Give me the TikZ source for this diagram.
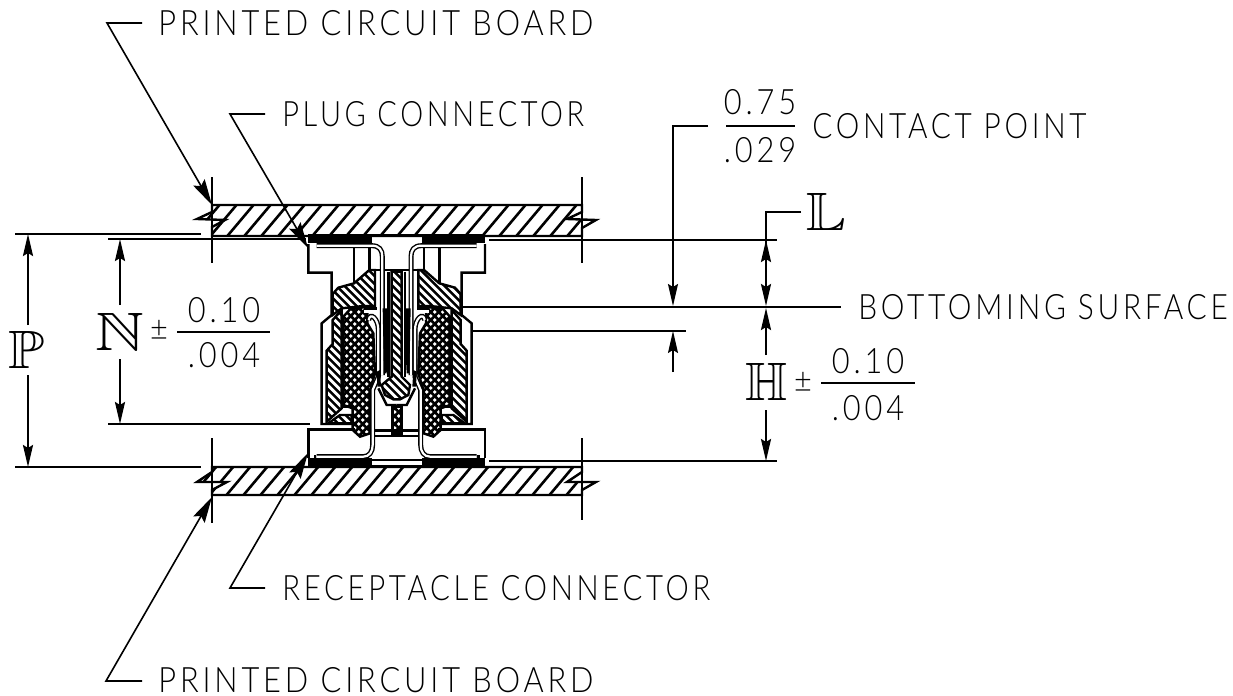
\documentclass[tikz,border=0pt]{standalone}
\usepackage{amssymb}
\usepackage{fontspec}
\newfontfamily\lblfont[LetterSpace=11,FakeStretch=0.88,UprightFont=* Light]{Lato}
\usetikzlibrary{arrows.meta}

\tikzset{
  lbl/.style={inner sep=0pt,font=\lblfont\fontsize{17.5}{18}\selectfont},
  bigl/.style={inner sep=0pt,font=\fontsize{27}{27}\selectfont},
  thinl/.style={line width=0.7pt},
  thickl/.style={line width=1.2pt},
  dimarrow/.style={line width=1.1pt,-{Stealth[length=11pt,width=5pt,inset=1.5pt]}},
  leadarrow/.style={line width=0.8pt,-{Stealth[length=13pt,width=6.5pt,inset=2pt]}},
  hatchl/.style={line width=1.3pt},
  hatchs/.style={line width=1.2pt},
  crossl/.style={line width=1.35pt},
  contact/.style={double,double distance=1.1pt,line width=0.7pt},
}

% one half of the connector section, #1 sets the hatch direction
\newcommand{\hatchfill}[2]{%
  \begin{scope}
    \clip #2;
    \foreach \d in {-700,-676,...,1100} \draw[hatchs] (\d,0) -- ++(#1*800,800);
  \end{scope}
  \draw[thickl] #2;
}
\newcommand{\crossfill}[1]{%
  \begin{scope}
    \clip #1;
    \foreach \d in {-700,-676,...,1100} {
      \draw[crossl] (\d,0) -- ++(800,800);
      \draw[crossl] (\d,0) -- ++(-800,800);
    }
  \end{scope}
  \draw[thickl] #1;
}
\newcommand{\connhalf}[1]{%
  % solder pads
  \fill (85,42) rectangle (350,48);
  \fill (85,42) rectangle (275,70);
  \fill (85,715) rectangle (275,740);
  \fill (275,735) rectangle (350,740);
  \draw[thickl] (275,720) -- (350,720);
  % housing outline
  \draw[thickl] (85,72) -- (85,158) -- (155,158) -- (155,285) -- (125,310) -- (125,612) -- (218,612);
  \draw[thickl] (268,150) -- (350,150);
  \draw[thickl] (222,85) -- (222,190);
  \draw[thickl] (268,85) -- (268,150);
  \draw[thickl] (85,715) -- (85,628) -- (225,628);
  \draw[thickl] (285,632) -- (350,632);
  \draw[thickl] (285,648) -- (350,648);
  \draw[thickl] (105,715) -- (105,705);
  % hatched parts
  \hatchfill{#1}{(268,150) -- (222,190) -- (175,203) -- (158,222) -- (158,285) -- (185,265) -- (250,258) -- (285,258) -- (285,150) -- cycle}
  \hatchfill{#1}{(158,300) -- (185,270) -- (185,565) -- (140,605) -- (140,392) -- (158,372) -- cycle}
  \hatchfill{#1}{(145,610) -- (180,585) -- (215,585) -- (215,610) -- cycle}
  \crossfill{(190,290) -- (210,268) -- (250,262) -- (262,265) -- (262,310) -- (280,340) -- (285,460) -- (270,510) -- (270,640) -- (240,650) -- (218,630) -- (218,565) -- (190,555) -- cycle}
  \draw[thickl] (185,560) -- (218,560);
  % contacts
  \draw[contact] (110,77) -- (275,77) .. controls (298,77) and (307,90) .. (307,110) -- (307,465);
  \draw[contact] (110,710) -- (250,710) .. controls (268,710) and (278,695) .. (278,675) -- (278,510) -- (295,470) -- (295,330) .. controls (295,295) and (270,275) .. (266,300);
  \fill[white] (252,266) rectangle (290,278);
  \draw[thickl] (252,266) -- (290,266);
  % black wedges
  \fill (308,265) -- (328,265) -- (328,300) -- (320,460) -- (312,460) -- cycle;
  \fill (290,455) -- (300,450) -- (303,500) -- (292,500) -- cycle;
  \draw[thickl] (325,155) -- (325,470);
  \draw[thickl] (295,505) -- (320,555) -- (350,555);
}

\begin{document}
\begin{tikzpicture}[x=0.5pt,y=0.5pt,yscale=-1,xscale=1]
  \useasboundingbox (0,0) rectangle (1233,696);

  % upper board
  \begin{scope}
    \clip (212,205) -- (582,205) -- (582,212) -- (567,219) -- (596,220) -- (582,228) -- (582,236) -- (212,236) -- (212,227) -- (225,220) -- (197,219) -- (212,212) -- cycle;
    \foreach \x in {190,207,...,600} \draw[hatchl] (\x,240) -- ++(32,-38);
  \end{scope}
  \draw[thickl] (212,205) -- (582,205) -- (582,212) -- (567,219) -- (596,220) -- (582,228) -- (582,236) -- (212,236) -- (212,227) -- (225,220) -- (197,219) -- (212,212) -- cycle;

  % lower board
  \begin{scope}
    \clip (212,467) -- (582,467) -- (582,472) -- (567,482) -- (596,482) -- (582,490) -- (582,495) -- (212,495) -- (212,490) -- (227,482) -- (197,482) -- (212,472) -- cycle;
    \foreach \x in {190,207,...,600} \draw[hatchl] (\x,498) -- ++(32,-38);
  \end{scope}
  \draw[thickl] (212,467) -- (582,467) -- (582,472) -- (567,482) -- (596,482) -- (582,490) -- (582,495) -- (212,495) -- (212,490) -- (227,482) -- (197,482) -- (212,472) -- cycle;

  % connector section
  \begin{scope}[shift={(280,220)},x=0.16667pt,y=0.16667pt]
    \connhalf{1}
    \begin{scope}[shift={(700,0)},xscale=-1]
      \connhalf{-1}
    \end{scope}
    \hatchfill{1}{(335,155) -- (365,155) -- (365,470) -- (390,495) -- (385,525) -- (360,538) -- (340,538) -- (315,525) -- (305,495) -- (335,470) -- cycle}
    \crossfill{(337,560) -- (365,560) -- (365,640) -- (337,640) -- cycle}
  \end{scope}

  % extension lines
  \draw[thinl] (212,177) -- (212,263);
  \draw[thinl] (582,177) -- (582,263);
  \draw[thinl] (212,438) -- (212,523);
  \draw[thinl] (582,438) -- (582,520);
  \draw[thinl] (15,234) -- (201,234);
  \draw[thinl] (15,467) -- (201,467);
  \draw[thinl] (108,239) -- (306,239);
  \draw[thinl] (489,240) -- (777,240);
  \draw[thickl] (108,424) -- (310,424);
  \draw[thickl] (489,461) -- (777,461);
  \draw[thickl] (462,307) -- (841,307);
  \draw[thinl] (472,331) -- (686,331);

  % labels
  \node[lbl,anchor=west] (pcbtop) at (158,23) {PRINTED CIRCUIT BOARD};
  \node[lbl,anchor=west] (plug) at (282,114) {\scalebox{0.94}[1]{PLUG CONNECTOR}};
  \node[lbl,anchor=west] (contactpt) at (812,126) {\scalebox{0.965}[1]{CONTACT POINT}};
  \node[lbl,anchor=west] (bottoming) at (858,307) {\scalebox{0.97}[1]{BOTTOMING SURFACE}};
  \node[lbl,anchor=west] (recept) at (282,588) {\scalebox{0.953}[1]{RECEPTACLE CONNECTOR}};
  \node[lbl,anchor=west] (pcbbot) at (158,680) {PRINTED CIRCUIT BOARD};
  \node[lbl] (cnum) at (760,102) {0.75};
  \node[lbl] (cden) at (760,150) {.029};
  \draw[thinl] (726,126) -- (795,126);
  \node[bigl] (ldim) at (826,212) {\scalebox{1.1}[1]{$\mathbb{L}$}};
  \node[bigl] (pdim) at (27,350) {\scalebox{1.1}[1]{$\mathbb{P}$}};
  \node[bigl] (ndim) at (120,332) {\scalebox{1.25}[1]{$\mathbb{N}$}};
  \node[lbl] (npm) at (159,330) {±};
  \node[lbl] (nnum) at (224,310) {0.10};
  \node[lbl] (nden) at (224,355) {.004};
  \draw[thinl] (177,332) -- (270,332);
  \node[bigl] (hdim) at (766,382) {$\mathbb{H}$};
  \node[lbl] (hpm) at (803,382) {±};
  \node[lbl] (hnum) at (868,361) {0.10};
  \node[lbl] (hden) at (868,408) {.004};
  \draw[thinl] (821,383) -- (915,383);

  % leaders
  \coordinate (pcbtopk) at (107,23);
  \coordinate (pcbtopt) at (212,205);
  \coordinate (plugk) at (230,114);
  \coordinate (plugt) at (308,248);
  \coordinate (receptk) at (230,588);
  \coordinate (receptt) at (308,453);
  \coordinate (pcbbotk) at (106,681);
  \coordinate (pcbbott) at (212,497);
  \draw[leadarrow] (pcbtop.west) ++(-16,0) -- (pcbtopk) -- (pcbtopt);
  \draw[leadarrow] (plug.west) ++(-17,0) -- (plugk) -- (plugt);
  \draw[leadarrow] (recept.west) ++(-17,0) -- (receptk) -- (receptt);
  \draw[leadarrow] (pcbbot.west) ++(-16,1) -- (pcbbotk) -- (pcbbott);

  % dimensions
  \coordinate (ptop) at (28,234);
  \coordinate (pbot) at (28,467);
  \coordinate (ntop) at (120,239);
  \coordinate (nbot) at (120,424);
  \coordinate (ctip) at (673,306);
  \coordinate (ckink) at (673,126);
  \coordinate (ctipb) at (673,331);
  \coordinate (ltop) at (766,240);
  \coordinate (lbot) at (766,306);
  \coordinate (lkink) at (766,212);
  \coordinate (htop) at (766,308);
  \coordinate (hbot) at (766,461);
  \draw[dimarrow] (pdim.north) ++(1,-6) -- (ptop);
  \draw[dimarrow] (pdim.south) ++(1,6) -- (pbot);
  \draw[dimarrow] (ndim.north) ++(0,-8) -- (ntop);
  \draw[dimarrow] (ndim.south) ++(0,8) -- (nbot);
  \draw[thinl,-{Stealth[length=11pt,width=5pt,inset=1.5pt]}] (708,126) -- (ckink) -- (ctip);
  \draw[thinl,-{Stealth[length=11pt,width=5pt,inset=1.5pt]}] (673,372) -- (ctipb);
  \draw[thinl] (801,212) -- (lkink) -- (766,270);
  \draw[dimarrow] (766,275) -- (ltop);
  \draw[dimarrow] (766,270) -- (lbot);
  \draw[dimarrow] (hdim.north) ++(0,-8) -- (htop);
  \draw[dimarrow] (hdim.south) ++(0,9) -- (hbot);
\end{tikzpicture}
\end{document}
